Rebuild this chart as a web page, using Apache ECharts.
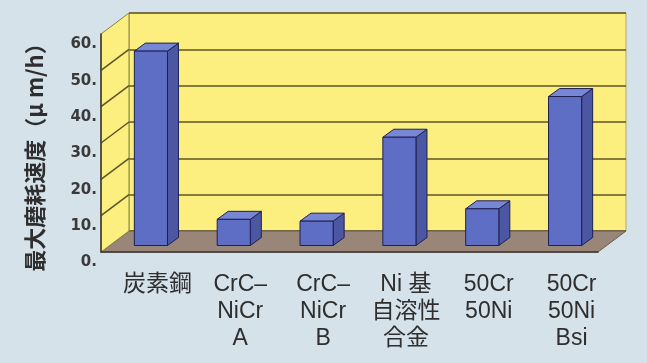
<!DOCTYPE html>
<html>
<head>
<meta charset="utf-8">
<script src="https://cdn.jsdelivr.net/npm/echarts@6/dist/echarts.min.js"></script>
<style>
  html, body { margin: 0; padding: 0; background: #d3e0e8; }
  #main { width: 647px; height: 363px; }
</style>
</head>
<body>
<div id="main"></div>
<script>
// data
var categories = ['炭素鋼', 'CrC–\nNiCr\nA', 'CrC–\nNiCr\nB', 'Ni 基\n自溶性\n合金', '50Cr\n50Ni', '50Cr\n50Ni\nBsi'];
var wearRates = [53.5, 7.2, 6.7, 29.8, 10.1, 41];
var yTicks = [0, 10, 20, 30, 40, 50, 60];
var yName = '最大磨耗速度（μ m/h）';

// fake 3d: front plane grid + back wall grid shifted by the depth
var FRONT = { left: 101, top: 34, width: 497, height: 218 };
var DX = 28, DY = -21;
var BAR_SHIFT = [8.5, -6.5];
var BAR_DEPTH = [11, -8];
var OUTLINE = '#1e2050';
var GRIDLINE = '#5c5426';

var myChart = echarts.init(document.getElementById('main'));

function renderWalls(params, api) {
  var r = params.coordSys;
  var fl = [r.x, r.y + r.height], fr = [r.x + r.width, r.y + r.height];
  var tl = [r.x, r.y];
  return {
    type: 'group',
    children: [
      { // floor
        type: 'polygon',
        shape: { points: [fl, fr, [fr[0] + DX, fr[1] + DY], [fl[0] + DX, fl[1] + DY]] },
        style: { fill: '#9a8579', stroke: '#6b5a50', lineWidth: 1 }
      },
      { // left side wall
        type: 'polygon',
        shape: { points: [fl, tl, [tl[0] + DX, tl[1] + DY], [fl[0] + DX, fl[1] + DY]] },
        style: { fill: '#fcef80', stroke: '#8a7f40', lineWidth: 1 }
      }
    ]
  };
}

function renderSideLine(params, api) {
  var r = params.coordSys;
  var p = api.coord([0, api.value(0)]);
  return {
    type: 'line',
    shape: { x1: r.x, y1: p[1], x2: r.x + DX, y2: p[1] + DY },
    style: { stroke: GRIDLINE, lineWidth: 1.5 }
  };
}

function renderBar(params, api) {
  var i = api.value(0), v = api.value(1);
  var base = api.coord([i, 0]);
  var top = api.coord([i, v]);
  var w = api.size([1, 0])[0] * 0.4;
  var x0 = base[0] - w / 2 + BAR_SHIFT[0], x1 = x0 + w;
  var yb = base[1] + BAR_SHIFT[1], yt = top[1] + BAR_SHIFT[1];
  var dx = BAR_DEPTH[0], dy = BAR_DEPTH[1];
  return {
    type: 'group',
    children: [
      { type: 'polygon', shape: { points: [[x1, yb], [x1 + dx, yb + dy], [x1 + dx, yt + dy], [x1, yt]] },
        style: { fill: '#4b57a3', stroke: OUTLINE, lineWidth: 1 } },
      { type: 'polygon', shape: { points: [[x0, yt], [x1, yt], [x1 + dx, yt + dy], [x0 + dx, yt + dy]] },
        style: { fill: '#7787d6', stroke: OUTLINE, lineWidth: 1 } },
      { type: 'rect', shape: { x: x0, y: yt, width: w, height: yb - yt },
        style: { fill: '#5e6ec5', stroke: OUTLINE, lineWidth: 1 } }
    ]
  };
}

myChart.setOption({
  backgroundColor: '#d5e2ea',
  animation: false,
  grid: [
    { left: FRONT.left, top: FRONT.top, width: FRONT.width, height: FRONT.height },
    { left: FRONT.left + DX, top: FRONT.top + DY, width: FRONT.width, height: FRONT.height,
      show: true, backgroundColor: '#fcef80', borderColor: '#b5a865', borderWidth: 1 }
  ],
  xAxis: [
    { type: 'category', gridIndex: 0, data: categories, z: 5,
      axisLine: { lineStyle: { color: '#3a3530', width: 1.5 } },
      axisTick: { show: false },
      axisLabel: {
        interval: 0, margin: 19, color: '#2e2e2e', fontSize: 23, lineHeight: 27,
        fontFamily: "'Liberation Sans', 'Noto Sans CJK JP', sans-serif",
        padding: [0, 0, 0, 30]
      }
    },
    { type: 'category', gridIndex: 1, data: categories, show: false }
  ],
  yAxis: [
    { type: 'value', gridIndex: 0, min: 0, max: 60, interval: 10, z: 5,
      axisLine: { show: true, lineStyle: { color: '#3a3530', width: 1.5 } },
      axisTick: { show: false },
      splitLine: { show: false },
      axisLabel: {
        margin: 4, color: '#3a3a3a', fontSize: 15, fontWeight: 'bold',
        fontFamily: "'DejaVu Sans', sans-serif",
        verticalAlign: 'top', lineHeight: 21,
        formatter: function (v) { return v + '.'; }
      },
      name: yName, nameLocation: 'middle', nameRotate: 90, nameGap: 55,
      nameTextStyle: { fontSize: 22, fontWeight: 'bold', color: '#2e2e2e',
        fontFamily: "'Noto Sans CJK JP', sans-serif", padding: [0, 18, 0, 0] }
    },
    { type: 'value', gridIndex: 1, min: 0, max: 60, interval: 10,
      axisLine: { show: false }, axisTick: { show: false }, axisLabel: { show: false },
      splitLine: { show: true, lineStyle: { color: GRIDLINE, width: 1.5 } }
    }
  ],
  series: [
    { type: 'custom', name: 'walls', xAxisIndex: 0, yAxisIndex: 0, z: 1, silent: true,
      data: [[0, 0]], renderItem: renderWalls },
    { type: 'custom', name: 'sideLines', xAxisIndex: 0, yAxisIndex: 0, z: 1, silent: true,
      data: yTicks.slice(1, -1), encode: { y: 0 }, renderItem: renderSideLine },
    { type: 'custom', name: '最大磨耗速度', xAxisIndex: 0, yAxisIndex: 0, z: 3,
      data: wearRates.map(function (v, i) { return [i, v]; }),
      encode: { x: 0, y: 1 }, renderItem: renderBar }
  ]
});
</script>
</body>
</html>
